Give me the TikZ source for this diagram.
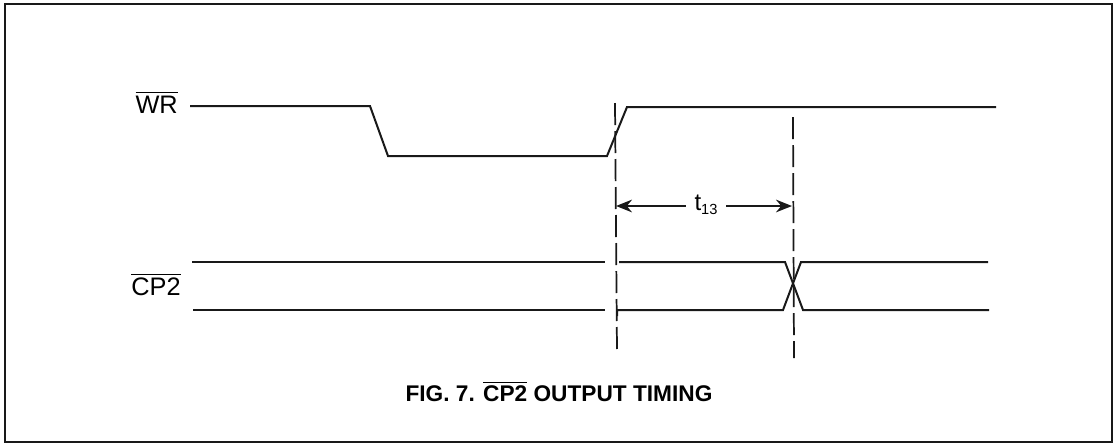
\documentclass[tikz,border=0pt]{standalone}
\usepackage{amsmath}
\usepackage{fontspec}
\setmainfont{Liberation Sans}
\usetikzlibrary{arrows.meta}
\newcommand{\sigbar}[1]{$\overline{\hbox{#1}}$}
\tikzset{
    wave/.style={line width=1.5pt, black!90},
    marker/.style={line width=1.3pt, black!90, dash pattern=on 16.5pt off 4.5pt},
    span/.style={line width=1.2pt, black!90, -{Stealth[length=12pt,width=9.5pt]}},
    sig/.style={font=\fontsize{19}{20}\selectfont, inner sep=0pt, anchor=east}
}
\begin{document}
\begin{tikzpicture}[x=0.75pt,y=-0.75pt]
        \useasboundingbox (0,0) rectangle (1117,444);
        \draw[line width=1.5pt, black!90] (5,4) rectangle (1112,442);
        % signal names
        \node[sig] (wr) at (178,102) {\sigbar{WR}};
        \node[sig] (cp) at (181,284) {\sigbar{CP2}};
        % WR
        \draw[wave] (190,106) -- (370,106) -- (388,156) -- (607,156) -- (627,107) -- (996,107);
        % CP2
        \draw[wave] (192,262) -- (605,262);
        \draw[wave] (619,262) -- (785,262) -- (803,310) -- (989,310);
        \draw[wave] (193,310) -- (605,310);
        \draw[wave] (617,316) -- (617,310) -- (783,310) -- (801,262) -- (988,262);
        % timing marks
        \draw[marker] (615,103) -- (617,352);
        \draw[marker] (793,117) -- (794,358);
        \node[inner sep=6.5pt] (t13) at (706,205) {\fontsize{18}{20}\selectfont t\raisebox{-3pt}{\fontsize{11}{12}\selectfont 13}};
        \coordinate (left) at (616,206);
        \coordinate (right) at (792,206);
        \draw[span] (t13.west |- left) -- (left);
        \draw[span] (t13.east |- right) -- (right);
        \node[font=\fontsize{17}{20}\selectfont\bfseries, inner sep=0pt] (title) at (559,391) {FIG. 7. \sigbar{CP2} OUTPUT TIMING};
\end{tikzpicture}
\end{document}
